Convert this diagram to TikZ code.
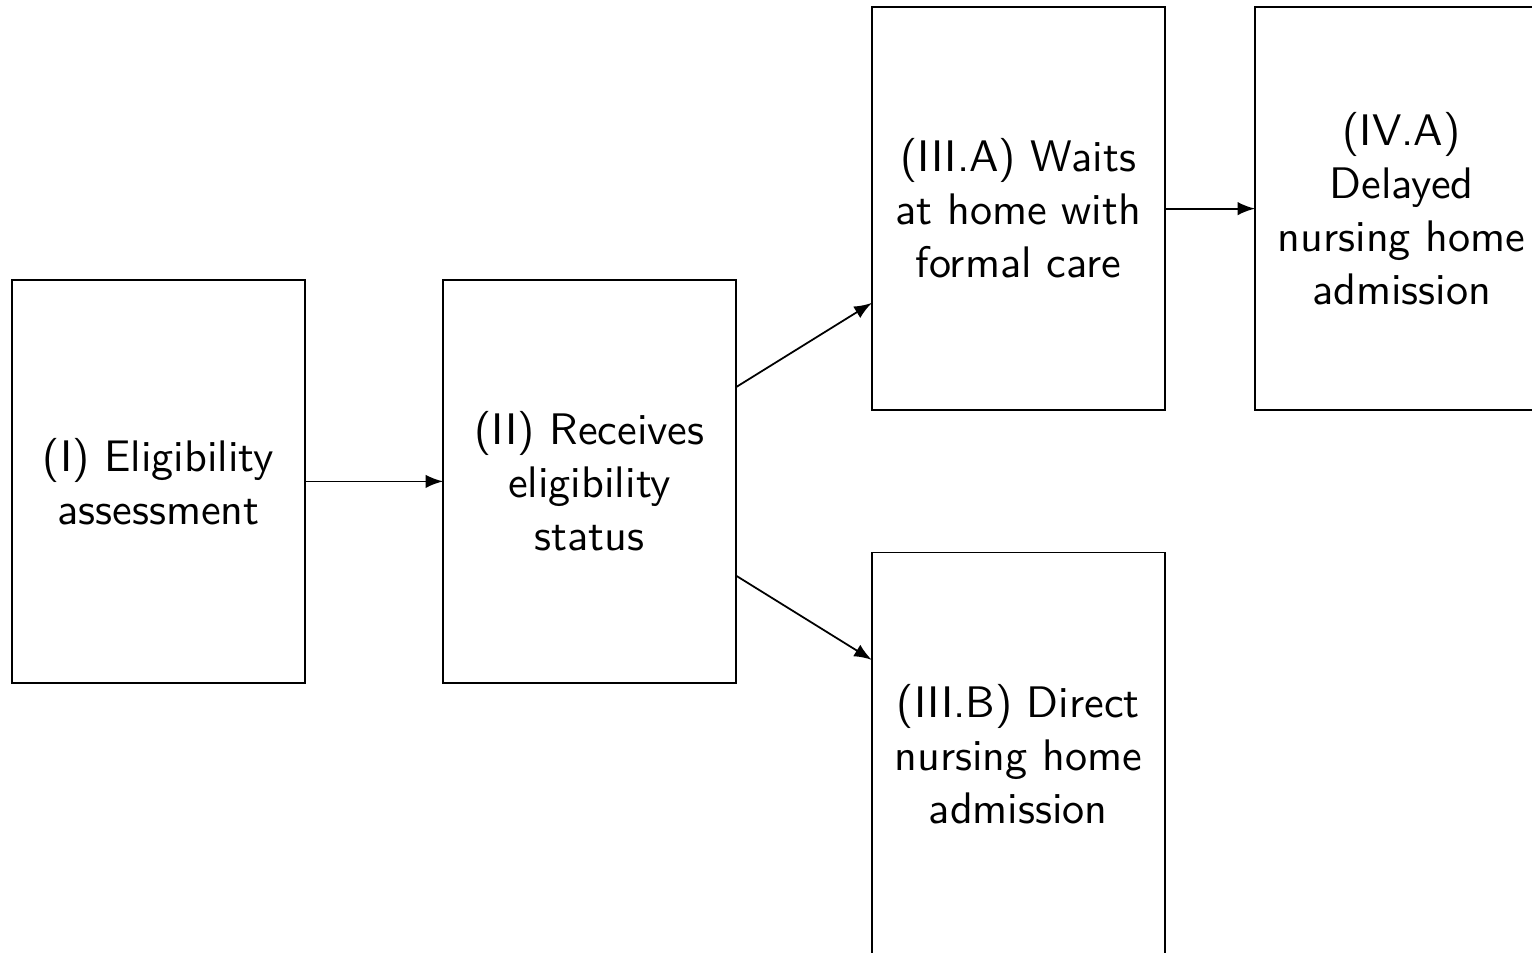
\documentclass[tikz,border=0pt]{standalone}
\usepackage{tikz}
\usetikzlibrary{arrows,positioning}

\begin{document}
\begin{tikzpicture}[node distance=1.1cm,outer sep=0pt,inner sep=2pt,>=latex]
      \tikzset{stage/.style={align=center,shape=rectangle,minimum height=3.21cm,minimum width=2.33cm,draw,font=\sffamily}}
      \useasboundingbox (-1.261,-3.751) rectangle (10.927,3.830);

      \node [stage] (elig) {(I) Eligibility\\assessment};
      \node [stage,right=1.1cm of elig] (status) {(II) Receives\\eligibility\\status};
      \node [stage,right=1.08cm of status,yshift=2.17cm] (waits) {(III.A) Waits\\at home with\\formal care};
      \node [stage,right=1.08cm of status,yshift=-2.17cm] (direct) {(III.B) Direct\\nursing home\\admission};
      \node [stage,right=0.72cm of waits] (delayed) {(IV.A)\\Delayed\\nursing home\\admission};

      \draw [->] (elig) -- (status);
      \draw [->] ([yshift=0.75cm]status.east) -- ([yshift=-0.75cm]waits.west);
      \draw [->] ([yshift=-0.75cm]status.east) -- ([yshift=0.75cm]direct.west);
      \draw [->] (waits) -- (delayed);
    \end{tikzpicture}
\end{document}
